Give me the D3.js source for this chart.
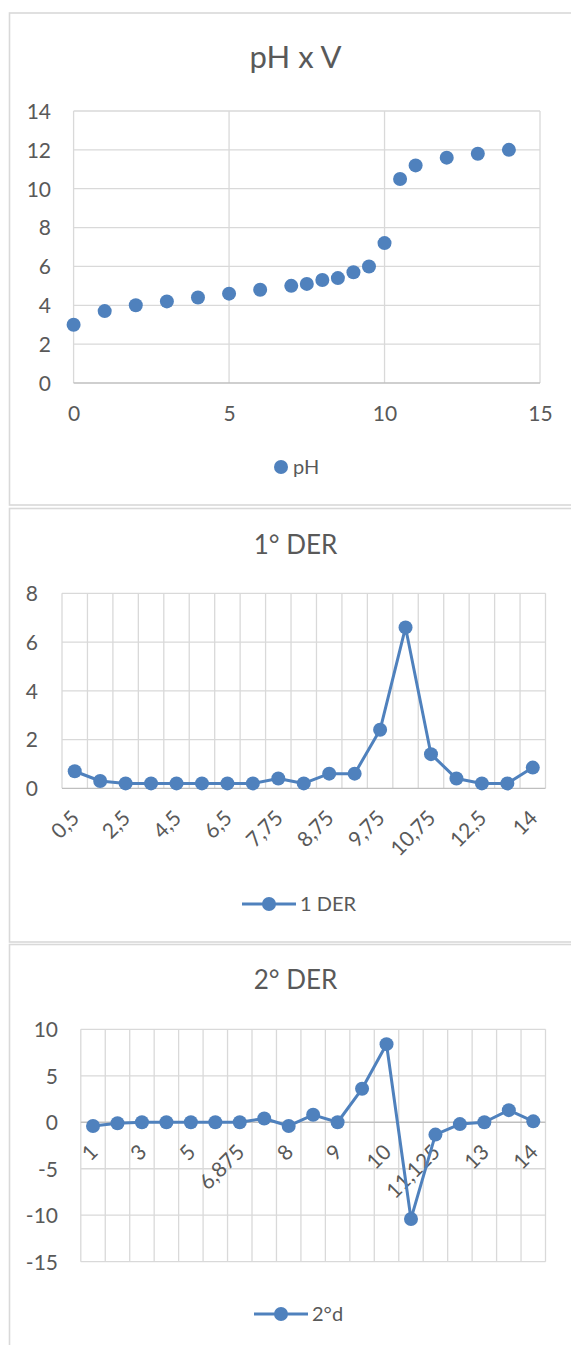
<!DOCTYPE html>
<html>
<head>
<meta charset="utf-8">
<script src="https://cdn.jsdelivr.net/npm/d3@7"></script>
<style>
  html, body { margin: 0; padding: 0; background: #fff; }
  svg { display: block; }
  text { font-family: Lato, "Open Sans", sans-serif; fill: #595959; }
</style>
</head>
<body>
<svg id="chart" width="571" height="1345"></svg>
<script>
// ---------- data ----------
const volume = [0, 1, 2, 3, 4, 5, 6, 7, 7.5, 8, 8.5, 9, 9.5, 10, 10.5, 11, 12, 13, 14];
const pH = [3.0, 3.7, 4.0, 4.2, 4.4, 4.6, 4.8, 5.0, 5.1, 5.3, 5.4, 5.7, 6.0, 7.2, 10.5, 11.2, 11.6, 11.8, 12.0];
const xTicks1 = [0, 5, 10, 15];
const yTicks1 = [0, 2, 4, 6, 8, 10, 12, 14];

const der1Cats = ["0,5", "1,5", "2,5", "3,5", "4,5", "5,5", "6,5", "7,25", "7,75", "8,25", "8,75", "9,25", "9,75", "10,25", "10,75", "11,5", "12,5", "13,5", "14"];
const der1 = [0.7, 0.3, 0.2, 0.2, 0.2, 0.2, 0.2, 0.2, 0.4, 0.2, 0.6, 0.6, 2.4, 6.6, 1.4, 0.4, 0.2, 0.2, 0.85];
const yTicks2 = [0, 2, 4, 6, 8];

const der2Cats = ["1", "2", "3", "4", "5", "6", "6,875", "7,5", "8", "8,5", "9", "9,5", "10", "10,5", "11,125", "12", "13", "13,75", "14"];
const der2 = [-0.4, -0.1, 0, 0, 0, 0, 0, 0.4, -0.4, 0.8, 0, 3.6, 8.4, -10.4, -1.33, -0.2, 0, 1.3, 0.1];
const yTicks3 = [-15, -10, -5, 0, 5, 10];

// ---------- style ----------
const BLUE = "#4F81BD";
const GRID = "#D9D9D9";
const AXIS = "#BFBFBF";
const FRAME = "#D9D9D9";
const TICK_FS = "21px";
const plain = d => String(d);   // hyphen-minus like the original

const svg = d3.select("#chart");

function frame(y0, y1) {
  svg.append("rect").attr("x", 9.5).attr("y", y0).attr("width", 620).attr("height", y1 - y0)
    .attr("fill", "#fff").attr("stroke", FRAME).attr("stroke-width", 1.6);
}
frame(13, 505);
frame(508.5, 942);
frame(944.5, 1400);

// ================= Chart 1: scatter =================
{
  const g = svg.append("g");
  const x = d3.scaleLinear().domain([0, 15]).range([73.6, 540]);
  const y = d3.scaleLinear().domain([0, 14]).range([383, 111]);

  g.append("text").attr("x", 295.5).attr("y", 68).attr("text-anchor", "middle")
    .style("font-size", "31px").text("pH x V");

  g.selectAll(".hg").data(yTicks1.filter(d => d !== 0)).join("line")
    .attr("x1", x(0)).attr("x2", x(15)).attr("y1", d => y(d)).attr("y2", d => y(d))
    .attr("stroke", GRID).attr("stroke-width", 1.3);
  g.selectAll(".vg").data(xTicks1).join("line")
    .attr("x1", d => x(d)).attr("x2", d => x(d)).attr("y1", y(14)).attr("y2", y(0))
    .attr("stroke", GRID).attr("stroke-width", 1.3);
  g.append("line").attr("x1", x(0)).attr("x2", x(15)).attr("y1", y(0)).attr("y2", y(0))
    .attr("stroke", AXIS).attr("stroke-width", 1.3);

  const yAxis = d3.axisLeft(y).tickValues(yTicks1).tickFormat(plain).tickSize(0).tickPadding(0);
  const ya = g.append("g").attr("transform", "translate(51,0)").call(yAxis);
  ya.select(".domain").remove();
  ya.selectAll("text").style("font-size", TICK_FS).attr("fill", "#595959").attr("dy", "0.35em");

  const xAxis = d3.axisBottom(x).tickValues(xTicks1).tickFormat(plain).tickSize(0).tickPadding(0);
  const xa = g.append("g").attr("transform", "translate(0,406)").call(xAxis);
  xa.select(".domain").remove();
  xa.selectAll("text").style("font-size", TICK_FS).attr("fill", "#595959").attr("dy", "0.72em");

  g.selectAll(".pt").data(volume).join("circle")
    .attr("cx", d => x(d)).attr("cy", (d, i) => y(pH[i])).attr("r", 7).attr("fill", BLUE);

  g.append("circle").attr("cx", 281).attr("cy", 467).attr("r", 7).attr("fill", BLUE);
  g.append("text").attr("x", 293).attr("y", 474).style("font-size", "20px").text("pH");
}

// ============ line chart helper ============
function lineChart(opt) {
  const g = svg.append("g");
  const x = d3.scaleBand().domain(opt.cats).range([opt.x0, opt.x1]).padding(0);
  const y = d3.scaleLinear().domain([opt.yTicks[0], opt.yTicks[opt.yTicks.length - 1]]).range([opt.y1, opt.y0]);

  g.append("text").attr("x", 295.5).attr("y", opt.titleY).attr("text-anchor", "middle")
    .style("font-size", "26px").text(opt.title);

  g.selectAll(".hg").data(opt.yTicks.filter(d => d !== 0)).join("line")
    .attr("x1", opt.x0).attr("x2", opt.x1).attr("y1", d => y(d)).attr("y2", d => y(d))
    .attr("stroke", GRID).attr("stroke-width", 1.3);
  const edges = opt.cats.map(c => x(c)).concat([opt.x1]);
  g.selectAll(".vg").data(edges).join("line")
    .attr("x1", d => d).attr("x2", d => d).attr("y1", opt.y0).attr("y2", opt.y1)
    .attr("stroke", GRID).attr("stroke-width", 1.3);
  g.append("line").attr("x1", opt.x0).attr("x2", opt.x1).attr("y1", y(0)).attr("y2", y(0))
    .attr("stroke", AXIS).attr("stroke-width", 1.3);

  const yAxis = d3.axisLeft(y).tickValues(opt.yTicks).tickFormat(plain).tickSize(0).tickPadding(0);
  const ya = g.append("g").attr("transform", `translate(${opt.yLabelX},0)`).call(yAxis);
  ya.select(".domain").remove();
  ya.selectAll("text").style("font-size", TICK_FS).attr("fill", "#595959").attr("dy", "0.35em");

  const shown = opt.cats.filter((c, i) => i % 2 === 0);
  g.selectAll(".xl").data(shown).join("text")
    .attr("text-anchor", "end")
    .attr("transform", d => `translate(${x(d) + x.bandwidth() / 2 + 6},${y(0) + 31}) rotate(-45)`)
    .style("font-size", TICK_FS)
    .text(d => d);

  const line = d3.line().x((d, i) => x(opt.cats[i]) + x.bandwidth() / 2).y(d => y(d));
  g.append("path").datum(opt.values).attr("d", line).attr("fill", "none")
    .attr("stroke", BLUE).attr("stroke-width", 3).attr("stroke-linejoin", "round");
  g.selectAll(".pt").data(opt.values).join("circle")
    .attr("cx", (d, i) => x(opt.cats[i]) + x.bandwidth() / 2).attr("cy", d => y(d))
    .attr("r", 7).attr("fill", BLUE);

  const L = opt.legend;
  g.append("line").attr("x1", L.x0).attr("x2", L.x1).attr("y1", L.y).attr("y2", L.y)
    .attr("stroke", BLUE).attr("stroke-width", 3);
  g.append("circle").attr("cx", (L.x0 + L.x1) / 2).attr("cy", L.y).attr("r", 7).attr("fill", BLUE);
  g.append("text").attr("x", L.x1 + 4).attr("y", L.y + 7).style("font-size", "20px").text(L.text);
}

lineChart({
  title: "1° DER", titleY: 554,
  cats: der1Cats, values: der1, yTicks: yTicks2,
  x0: 62, x1: 545.5, y0: 593.3, y1: 788.3, yLabelX: 38,
  legend: { x0: 242, x1: 296, y: 904, text: "1 DER" }
});

lineChart({
  title: "2° DER", titleY: 989,
  cats: der2Cats, values: der2, yTicks: yTicks3,
  x0: 80.8, x1: 545.5, y0: 1029.3, y1: 1261.7, yLabelX: 58,
  legend: { x0: 254, x1: 308, y: 1314, text: "2°d" }
});
</script>
</body>
</html>
